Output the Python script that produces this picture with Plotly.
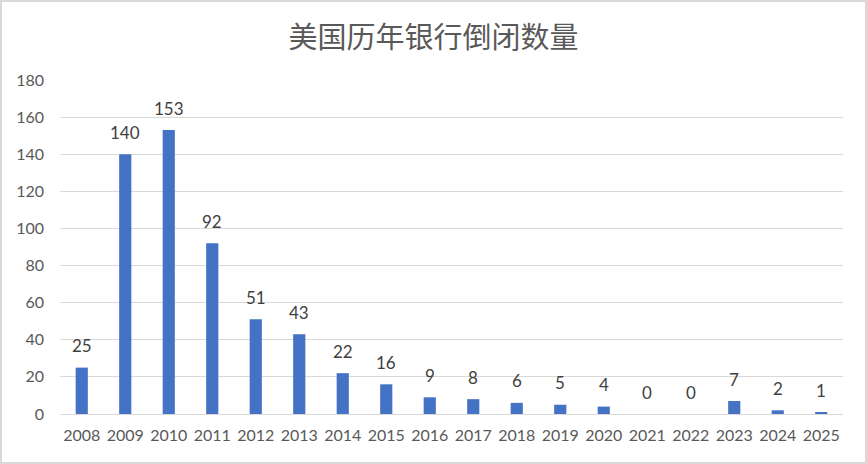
import plotly.graph_objects as go

years = ["2008", "2009", "2010", "2011", "2012", "2013", "2014", "2015", "2016",
         "2017", "2018", "2019", "2020", "2021", "2022", "2023", "2024", "2025"]
failures = [25, 140, 153, 92, 51, 43, 22, 16, 9, 8, 6, 5, 4, 0, 0, 7, 2, 1]
y_ticks = [0, 20, 40, 60, 80, 100, 120, 140, 160, 180]
title_text = "美国历年银行倒闭数量"

FONT = "Lato, Carlito, Liberation Sans, sans-serif"

fig = go.Figure(go.Bar(
    x=years, y=failures,
    marker=dict(color="#4472C4", line=dict(width=0)),
    cliponaxis=False,
))

for i, v in enumerate(failures):
    fig.add_annotation(x=i, y=v, text=str(v), showarrow=False,
                       xref="x", yref="y", yanchor="middle", yshift=22,
                       font=dict(family=FONT, size=17, color="#404040"))

fig.update_layout(
    width=867, height=464,
    margin=dict(l=60, r=24, t=80, b=50, autoexpand=False),
    paper_bgcolor="white", plot_bgcolor="white",
    bargap=0.72,
    showlegend=False,
    title=dict(text=title_text, x=0.5, xanchor="center", y=0.918, yanchor="middle",
               font=dict(family="Noto Sans CJK SC", size=29, color="#595959")),
    xaxis=dict(type="category", categoryorder="array", categoryarray=years,
               showgrid=False, showline=False, ticks="",
               automargin=False, ticklabelstandoff=10,
               tickfont=dict(family=FONT, size=16, color="#595959")),
    yaxis=dict(range=[0, 180], tickvals=y_ticks, showgrid=True, gridcolor="#D9D9D9", gridwidth=1,
               zeroline=True, zerolinecolor="#D9D9D9", zerolinewidth=1, showline=False, ticks="",
               ticklabelstandoff=15, automargin=False,
               tickfont=dict(family=FONT, size=16, color="#595959")),
)
# Border around whole chart in paper pixel space
fig.add_shape(type="rect", xref="paper", yref="paper",
              x0=-59/783, x1=1 + 23/783, y0=-49/334, y1=1 + 79/334,
              line=dict(color="#D9D9D9", width=2))

fig.write_html("out.html", config={"displayModeBar": False},
               post_script="document.body.style.margin='0px';")
